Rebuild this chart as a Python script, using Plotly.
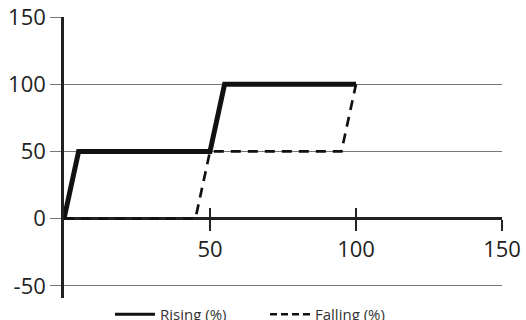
import plotly.graph_objects as go

# chart data
rising_x = [0, 5, 50, 55, 100]
rising_y = [0, 50, 50, 100, 100]
falling_x = [0, 45, 50, 95, 100]
falling_y = [0, 0, 50, 50, 100]

X_TICKS = [50, 100, 150]
Y_TICKS = [-50, 0, 50, 100, 150]
Y_LABELS = ["-50", "0", "50", "100", "150"]
X_RANGE = [0, 150]
Y_RANGE = [-59, 150]

FONT = "Open Sans, Noto Sans, sans-serif"
TICK_SIZE = 22
INK = "#111111"

# paper position of y = 0 so the x axis crosses there
zero_pos = (0 - Y_RANGE[0]) / (Y_RANGE[1] - Y_RANGE[0])

fig = go.Figure()
fig.add_trace(go.Scatter(x=rising_x, y=rising_y, name="Rising (%)", mode="lines",
                         showlegend=False, line=dict(color=INK, width=5)))
fig.add_trace(go.Scatter(x=falling_x, y=falling_y, name="Falling (%)", mode="lines",
                         showlegend=False, line=dict(color=INK, width=2.7, dash="10px,7px")))
# legend-only entries (thinner samples, as in the original key)
fig.add_trace(go.Scatter(x=[None], y=[None], name="Rising (%)", mode="lines",
                         line=dict(color=INK, width=3)))
fig.add_trace(go.Scatter(x=[None], y=[None], name="Falling (%)", mode="lines",
                         line=dict(color=INK, width=2.7, dash="7px,4px")))
# invisible trace so the second x axis (upward ticks) gets drawn
fig.add_trace(go.Scatter(x=[None], y=[None], xaxis="x2", showlegend=False, hoverinfo="skip"))

fig.update_layout(
    width=526, height=320,
    margin=dict(l=64, r=24, t=17, b=22, autoexpand=False),
    plot_bgcolor="white", paper_bgcolor="white",
    font=dict(family=FONT, color="#222222"),
    showlegend=True,
    legend=dict(orientation="h", x=0.105, xanchor="left", y=0.0, yanchor="top",
                font=dict(size=15, color="#333333"), itemwidth=40,
                entrywidth=100, entrywidthmode="pixels",
                bgcolor="rgba(0,0,0,0)"),
    xaxis=dict(range=X_RANGE, tickvals=X_TICKS, showgrid=False, zeroline=False,
               anchor="free", position=zero_pos, showline=False,
               ticks="outside", ticklen=11, tickwidth=1.5, tickcolor="#222222",
               tickfont=dict(size=TICK_SIZE, family=FONT, color="#222222")),
    xaxis2=dict(range=X_RANGE, tickvals=X_TICKS, overlaying="x", matches="x",
                anchor="free", position=zero_pos, showgrid=False, zeroline=False,
                showline=False, showticklabels=False,
                ticks="inside", ticklen=11, tickwidth=1.5, tickcolor="#222222"),
    yaxis=dict(range=Y_RANGE, tickvals=Y_TICKS, ticktext=Y_LABELS,
               showgrid=True, gridcolor="#777777",
               gridwidth=1, zeroline=True, zerolinecolor="#222222", zerolinewidth=2.5,
               showline=True, linecolor="#222222", linewidth=2.5,
               ticks="outside", ticklen=11, tickwidth=1, tickcolor="#777777",
               tickfont=dict(size=TICK_SIZE, family=FONT, color="#222222")),
)

# drop the browser's default body margin so the figure sits at the page corner
fig.write_html("out.html", config={"displayModeBar": False},
               post_script="document.body.style.margin='0';")
